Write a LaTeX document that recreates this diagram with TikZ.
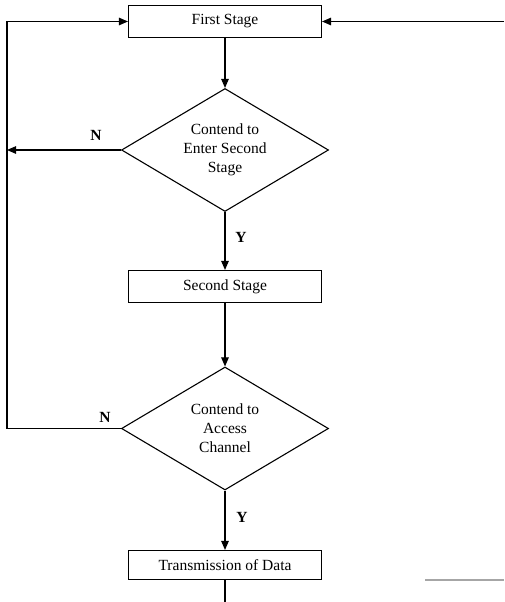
\documentclass[tikz,border=0pt]{standalone}
\usepackage{fontspec}
\setmainfont{Liberation Serif}
\usetikzlibrary{arrows.meta,shapes.geometric,positioning}

\begin{document}
\begin{tikzpicture}[x=1pt,y=-1pt,line width=1.1pt,font=\fontsize{15.5}{19}\selectfont,
 stagebox/.style={draw,rectangle,minimum width=193pt,minimum height=32pt,inner sep=0pt},
 choice/.style={draw,diamond,aspect=1.68,minimum width=207pt,minimum height=123pt,inner sep=0pt,align=center},
 arr/.style={-{Triangle[length=9pt,width=7.5pt]}},
 lbl/.style={font=\fontsize{15.5}{19}\selectfont\bfseries}]
\useasboundingbox (0,0) rectangle (504,602);
\node[stagebox] (first) at (225,21.5) {First Stage};
\node[choice] (enter) at (225,150) {Contend to\\Enter Second\\Stage};
\node[stagebox] (second) at (225,286.5) {Second Stage};
\node[choice] (access) at (225,428.5) {Contend to\\Access\\Channel};
\node[stagebox,minimum height=29pt] (trans) at (225,565) {Transmission of Data};
\node[lbl] (n1) at (96,135) {N};
\node[lbl] (y1) at (241,237) {Y};
\node[lbl] (n2) at (105,417) {N};
\node[lbl] (y2) at (242,517) {Y};
\coordinate (lft) at (7,0);
\coordinate (rgt) at (504,21.5);
\coordinate (bot) at (225,602);
\draw[arr] (first) -- (enter);
\draw[arr] (enter) -- (second);
\draw[arr] (second) -- (access);
\draw[arr] (access) -- (trans);
\draw (trans) -- (trans.south |- bot);
\draw[arr] (enter.west) -- (enter.west -| lft);
\draw[arr] (access.west) -- (access.west -| lft) |- (first.west);
\draw[arr] (rgt) -- (first.east);
\draw[black!35] (425,580) -- (504,580);
\end{tikzpicture}
\end{document}
